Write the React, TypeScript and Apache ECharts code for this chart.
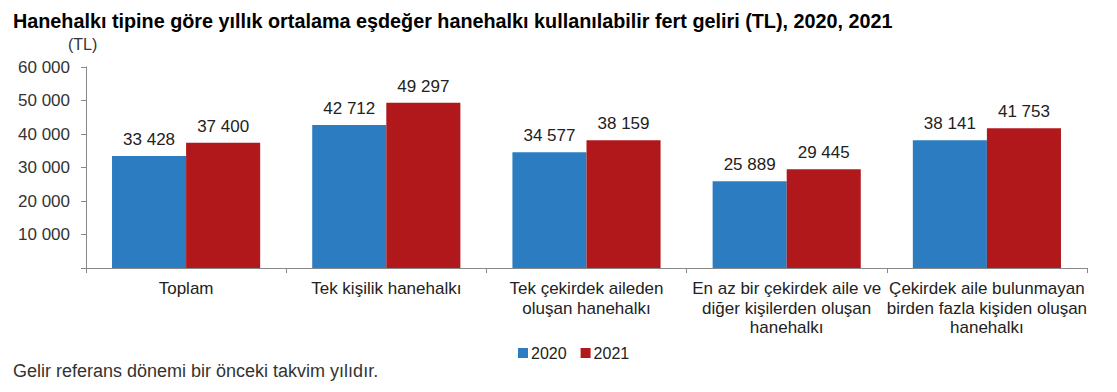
import React, { useEffect, useRef } from "react";
import * as echarts from "echarts";

const categories = [
  "Toplam",
  "Tek kişilik hanehalkı",
  "Tek çekirdek aileden\noluşan hanehalkı",
  "En az bir çekirdek aile ve\ndiğer kişilerden oluşan\nhanehalkı",
  "Çekirdek aile bulunmayan\nbirden fazla kişiden oluşan\nhanehalkı",
];
const values2020 = [33428, 42712, 34577, 25889, 38141];
const values2021 = [37400, 49297, 38159, 29445, 41753];
const seriesNames = ["2020", "2021"];
const colors = ["#2B7CC1", "#B0181B"];

const FONT = "'Liberation Sans', Arial, sans-serif";
const fmt = (v: number) => String(v).replace(/\B(?=(\d{3})+(?!\d))/g, " ");

export default function App() {
  const ref = useRef<HTMLDivElement>(null);
  useEffect(() => {
    if (!ref.current) return;
    const chart = echarts.init(ref.current, null, { renderer: "svg" });
    chart.setOption({
      animation: false,
      textStyle: { fontFamily: FONT },
      title: {
        text: "Hanehalkı tipine göre yıllık ortalama eşdeğer hanehalkı kullanılabilir fert geliri (TL), 2020, 2021",
        left: 8,
        top: 6,
        textStyle: { fontFamily: FONT, fontSize: 19.8, fontWeight: "bold", color: "#000" },
      },
      graphic: [
        {
          type: "text",
          left: 68,
          top: 36,
          style: { text: "(TL)", font: `16px ${FONT}`, fill: "#333" },
        },
        {
          type: "text",
          left: 13,
          top: 362,
          style: { text: "Gelir referans dönemi bir önceki takvim yılıdır.", font: `18px ${FONT}`, fill: "#333" },
        },
      ],
      legend: {
        data: seriesNames,
        left: 513,
        top: 340,
        itemWidth: 10,
        itemHeight: 10,
        itemGap: 14,
        icon: "rect",
        textStyle: { fontFamily: FONT, fontSize: 16, color: "#222", padding: [0, 0, 0, -2] },
      },
      grid: { left: 86, right: 30, top: 67, bottom: 124, containLabel: false },
      xAxis: {
        type: "category",
        data: categories,
        axisLine: { lineStyle: { color: "#888" } },
        axisTick: { show: true, length: 5, lineStyle: { color: "#888" } },
        axisLabel: {
          interval: 0,
          fontFamily: FONT,
          fontSize: 17,
          color: "#222",
          lineHeight: 19.5,
          margin: 11,
        },
      },
      yAxis: {
        type: "value",
        min: 0,
        max: 60000,
        interval: 10000,
        axisLine: { show: true, lineStyle: { color: "#888" } },
        axisTick: { show: true, length: 5, lineStyle: { color: "#888" } },
        splitLine: { show: false },
        axisLabel: {
          fontFamily: FONT,
          fontSize: 17,
          color: "#333",
          margin: 16,
          formatter: (v: number) => (v === 0 ? "" : fmt(v)),
        },
      },
      series: [values2020, values2021].map((vals, i) => ({
        name: seriesNames[i],
        type: "bar",
        data: vals,
        barGap: "0%",
        barCategoryGap: "26%",
        itemStyle: { color: colors[i] },
        label: {
          show: true,
          position: "top",
          distance: 8,
          fontFamily: FONT,
          fontSize: 17,
          color: "#222",
          formatter: (p: any) => fmt(p.value),
        },
      })),
    });
    return () => chart.dispose();
  }, []);
  return <div ref={ref} style={{ width: 1117, height: 392, margin: -8 }} />;
}
